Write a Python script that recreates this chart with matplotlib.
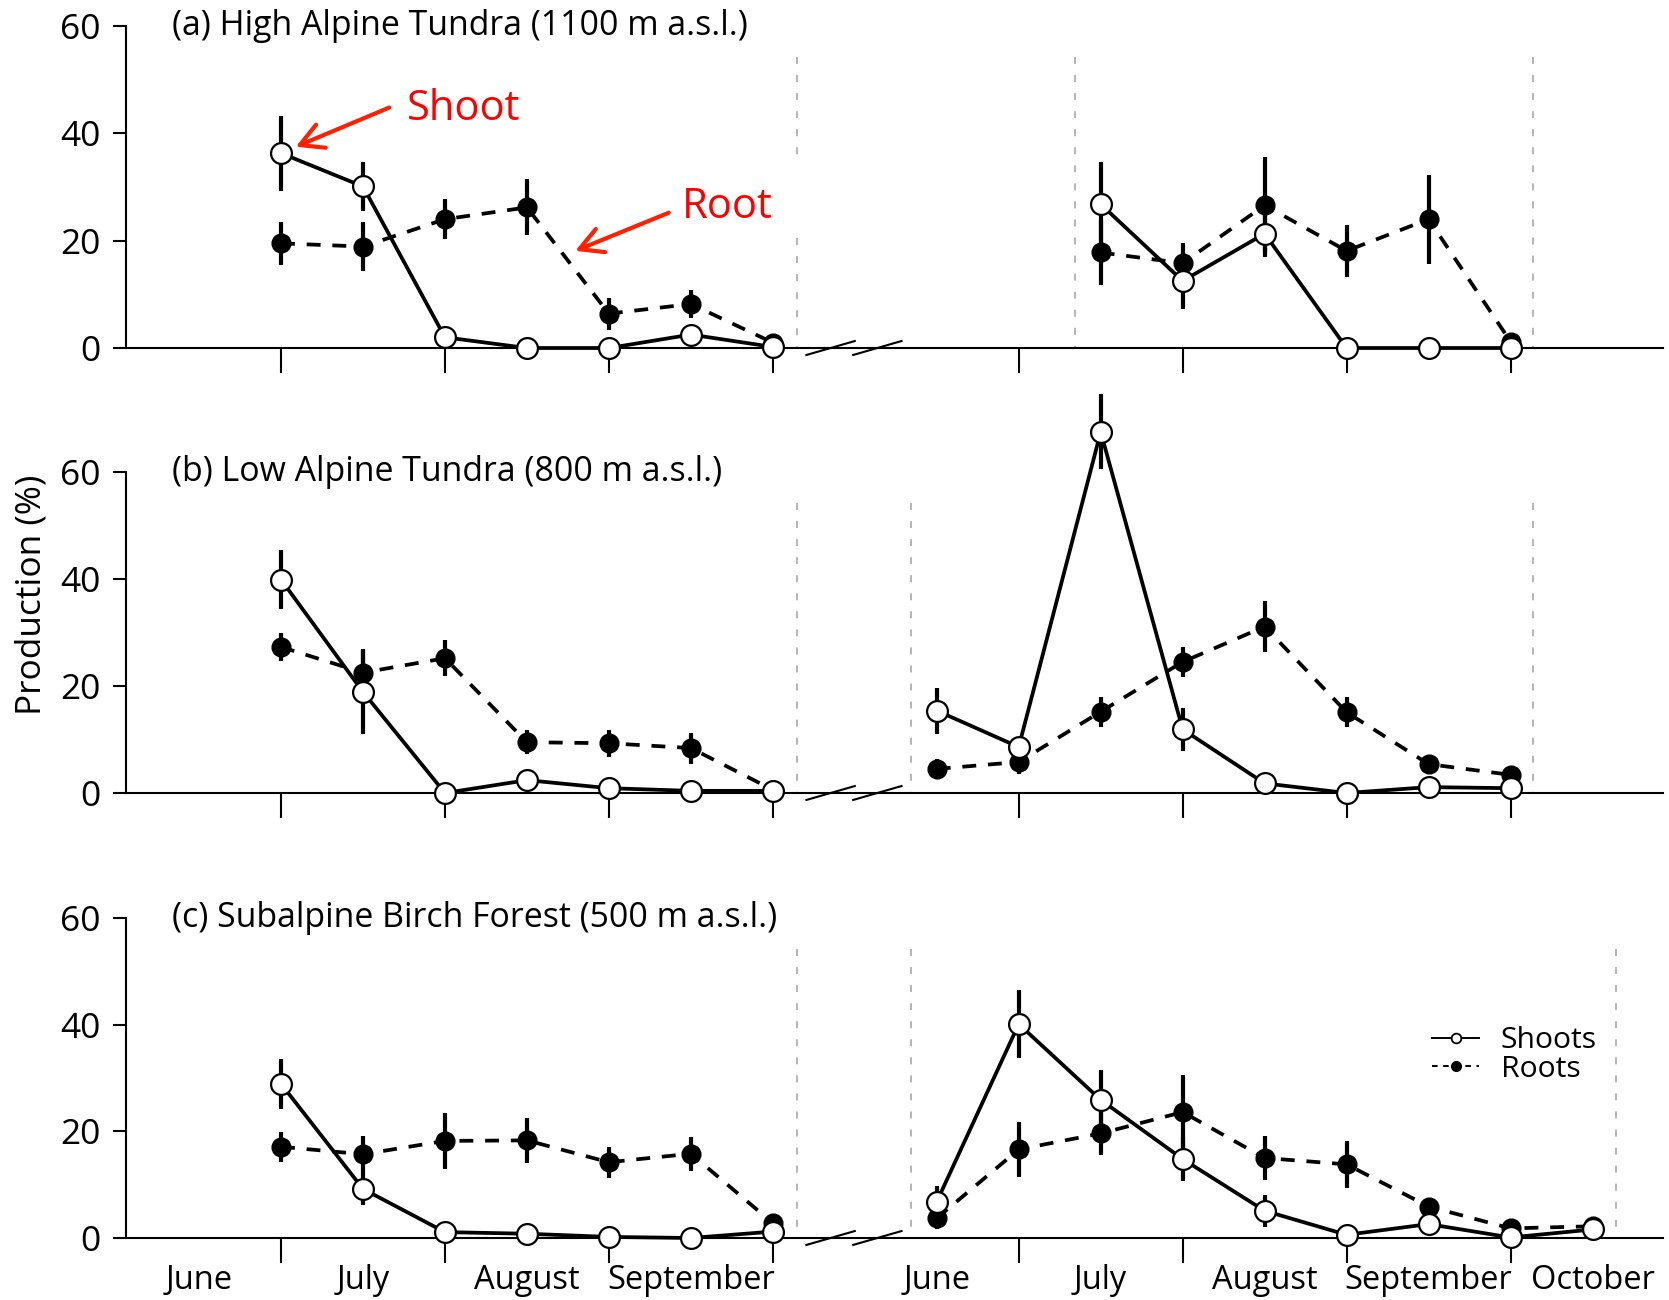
import matplotlib
matplotlib.use("Agg")
import matplotlib.pyplot as plt
import numpy as np
from matplotlib.lines import Line2D

plt.rcParams['font.family'] = ['Open Sans', 'DejaVu Sans']
plt.rcParams['lines.scale_dashes'] = False

# ---------------- data ----------------
# x positions: half-month units (left season 2..8, right season 10..18)
x_left = [2, 3, 4, 5, 6, 7, 8]

# (a) High Alpine Tundra
a_x_right = [12, 13, 14, 15, 16, 17]
a_shoot_L = [36.3, 30.1, 2.0, 0.0, 0.0, 2.5, 0.2]
a_shoot_L_err = [7.0, 4.6, 0, 0, 0, 0, 0]
a_root_L = [19.5, 18.9, 24.0, 26.2, 6.4, 8.2, 1.0]
a_root_L_err = [4.0, 4.5, 3.7, 5.2, 3.0, 2.6, 0.5]
a_shoot_R = [26.8, 12.5, 21.3, 0.0, 0.0, 0.0]
a_shoot_R_err = [7.8, 5.2, 4.3, 0, 0, 0]
a_root_R = [17.8, 15.8, 26.6, 18.1, 24.0, 1.2]
a_root_R_err = [6.0, 3.7, 8.9, 4.9, 8.3, 0.5]

# (b) Low Alpine Tundra
b_x_right = [10, 11, 12, 13, 14, 15, 16, 17]
b_shoot_L = [39.9, 18.9, 0.0, 2.4, 0.9, 0.4, 0.4]
b_shoot_L_err = [5.5, 7.8, 0, 1.5, 0.8, 0, 0]
b_root_L = [27.3, 22.5, 25.2, 9.5, 9.3, 8.4, 0.6]
b_root_L_err = [2.6, 4.5, 3.4, 2.3, 2.5, 2.9, 0]
b_shoot_R = [15.4, 8.6, 67.5, 11.9, 1.8, 0.0, 1.1, 0.9]
b_shoot_R_err = [4.3, 1.5, 7.0, 4.0, 0, 0, 0, 0]
b_root_R = [4.5, 5.8, 15.2, 24.5, 31.1, 15.1, 5.4, 3.4]
b_root_R_err = [1.8, 2.2, 2.8, 2.8, 4.7, 2.8, 1.0, 0.8]

# (c) Subalpine Birch Forest
c_x_right = [10, 11, 12, 13, 14, 15, 16, 17, 18]
c_shoot_L = [28.9, 9.2, 1.1, 0.8, 0.2, 0.0, 1.2]
c_shoot_L_err = [4.7, 3.1, 0, 0, 0, 0, 0]
c_root_L = [17.1, 15.7, 18.2, 18.3, 14.2, 15.8, 2.8]
c_root_L_err = [2.8, 3.4, 5.2, 4.2, 2.9, 3.2, 0.8]
c_shoot_R = [6.8, 40.1, 25.9, 14.8, 5.1, 0.6, 2.6, 0.1, 1.6]
c_shoot_R_err = [3.0, 6.4, 5.6, 4.2, 3.0, 0, 1.0, 0, 0]
c_root_R = [3.7, 16.6, 19.6, 23.6, 15.0, 13.8, 5.9, 1.8, 2.2]
c_root_R_err = [2.0, 5.2, 4.0, 7.0, 4.2, 4.4, 1.5, 0.5, 0.5]

titles = ['(a) High Alpine Tundra (1100 m a.s.l.)',
          '(b) Low Alpine Tundra (800 m a.s.l.)',
          '(c) Subalpine Birch Forest (500 m a.s.l.)']

# season boundary lines (grey dashed); segments (x, y_bottom, y_top)
season_segments = [
    [(8.29, 0, 20.5), (8.29, 34.5, 54.2), (11.69, 0, 54.2), (17.28, 0, 54.2)],
    [(8.29, 0, 54.2), (9.69, 0, 54.2), (17.28, 0, 54.2)],
    [(8.29, 0, 54.2), (9.69, 0, 54.2), (18.29, 0, 54.2)],
]

major_ticks = [2, 4, 6, 8, 11, 13, 15, 17]
month_pos = [1, 3, 5, 7, 10, 12, 14, 16, 18]
month_labels = ['June', 'July', 'August', 'September',
                'June', 'July', 'August', 'September', 'October']
y_ticks = [0, 20, 40, 60]

panels = [
    (a_x_right, a_shoot_L, a_shoot_L_err, a_root_L, a_root_L_err,
     a_shoot_R, a_shoot_R_err, a_root_R, a_root_R_err),
    (b_x_right, b_shoot_L, b_shoot_L_err, b_root_L, b_root_L_err,
     b_shoot_R, b_shoot_R_err, b_root_R, b_root_R_err),
    (c_x_right, c_shoot_L, c_shoot_L_err, c_root_L, c_root_L_err,
     c_shoot_R, c_shoot_R_err, c_root_R, c_root_R_err),
]

# ---------------- figure ----------------
fig = plt.figure(figsize=(16.69, 13), dpi=100)
L = 126 / 1669
W = (1663 - 126) / 1669
rects = [(L, 0.7323, W, 0.2477), (L, 0.3900, W, 0.2469), (L, 0.0477, W, 0.2462)]

shoot_style = dict(color='k', lw=2.7, marker='o', ms=15, mfc='white',
                   mec='k', mew=1.6, clip_on=False)
root_style = dict(color='k', lw=2.7, marker='o', ms=13.5, mfc='k',
                  mec='k', mew=1.0, dashes=(10, 8.5), clip_on=False)

axes = []
for i, (rect, pdata) in enumerate(zip(rects, panels)):
    (xr, sL, sLe, rL, rLe, sR, sRe, rR, rRe) = pdata
    ax = fig.add_axes(rect)
    axes.append(ax)
    ax.set_xlim(0.109, 18.86)
    ax.set_ylim(0, 60)
    for s in ['top', 'right']:
        ax.spines[s].set_visible(False)
    ax.spines['left'].set_bounds(0, 60)
    ax.spines['left'].set_linewidth(1.5)
    ax.spines['bottom'].set_linewidth(1.5)

    ax.set_xticks(major_ticks)
    ax.set_xticklabels([])
    ax.tick_params(axis='x', which='major', direction='out', length=18, width=1.5)
    if i == 2:
        ax.set_xticks(month_pos, minor=True)
        ax.set_xticklabels(month_labels, minor=True, fontsize=23.5)
        ax.tick_params(axis='x', which='minor', length=0, pad=19)
    ax.set_yticks(y_ticks)
    ax.set_yticklabels([str(v) for v in y_ticks], fontsize=25.5)
    ax.tick_params(axis='y', direction='out', length=9.4, width=1.5, pad=9)

    for xv, y0, y1 in season_segments[i]:
        ax.plot([xv, xv], [y1, y0], color='#a8a8a8', lw=1.2,
                dashes=(5, 8), zorder=1)

    # roots (behind)
    for xs, ys, es in [(x_left, rL, rLe), (xr, rR, rRe)]:
        xs = np.array(xs); ys = np.array(ys); es = np.array(es)
        ax.vlines(xs, ys - es, ys + es, colors='k', lw=3, zorder=2, clip_on=False)
        ax.plot(xs, ys, zorder=3, **root_style)
    # shoots (front)
    for xs, ys, es in [(x_left, sL, sLe), (xr, sR, sRe)]:
        xs = np.array(xs); ys = np.array(ys); es = np.array(es)
        ax.vlines(xs, ys - es, ys + es, colors='k', lw=3, zorder=4, clip_on=False)
        ax.plot(xs, ys, zorder=5, **shoot_style)

    # axis break marks
    for x0, x1 in [(8.41, 9.0), (8.98, 9.57)]:
        ax.plot([x0, x1], [-1.3, 1.3], color='k', lw=1.5, clip_on=False, zorder=6)

    ax.text(0.67, 58.3, titles[i], fontsize=24.4, ha='left', va='baseline')

# annotations in panel (a)
axa = axes[0]
axa.text(3.54, 42.5, 'Shoot', color='#ff0000', fontsize=30, ha='left', va='baseline')
axa.text(6.89, 24.2, 'Root', color='#ff0000', fontsize=30, ha='left', va='baseline')
arrow_kw = dict(arrowstyle='->,head_length=0.55,head_width=0.3', color='#ff2000',
                lw=3, mutation_scale=30, shrinkA=0, shrinkB=0)
axa.annotate('', xy=(2.18, 37.5), xytext=(3.32, 44.8), arrowprops=arrow_kw, zorder=8)
axa.annotate('', xy=(5.59, 18.1), xytext=(6.73, 25.2), arrowprops=arrow_kw, zorder=8)

# legend in panel (c)
h_shoot = Line2D([], [], color='k', lw=1.4, marker='o', ms=7, mfc='white', mec='k', mew=1.3)
h_root = Line2D([], [], color='k', lw=1.4, marker='o', ms=7, mfc='k', mec='k',
                dashes=(4, 4))
axes[2].legend([h_shoot, h_root], ['Shoots', 'Roots'], loc='upper left',
               bbox_to_anchor=(0.85, 0.662), frameon=False, fontsize=21.7,
               handlelength=1.55, handletextpad=0.72, labelspacing=-0.02,
               borderpad=0, borderaxespad=0, numpoints=1)

fig.text(0.0186, 0.5423, 'Production (%)', rotation=90, ha='center', va='center',
         fontsize=25.4)

fig.savefig('out.png', dpi=100)
